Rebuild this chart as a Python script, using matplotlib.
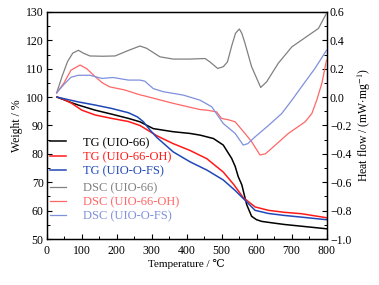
import matplotlib
matplotlib.use("Agg")
import matplotlib.pyplot as plt
from matplotlib.ticker import MultipleLocator
from matplotlib.lines import Line2D

plt.rcParams["font.family"] = ["Liberation Serif", "DejaVu Serif"]
plt.rcParams["mathtext.fontset"] = "stix"

# ----- TG curves (weight %, left axis) -----
t_tg66 = [30, 72, 91, 139, 186, 234, 267, 305, 362, 410, 439, 477, 505, 529, 539, 548,
          558, 572, 586, 600, 615, 650, 681, 729, 800]
w_tg66 = [100, 98.0, 97.2, 95.4, 94.0, 92.5, 91.3, 88.9, 87.8, 87.2, 86.6, 85.4, 83.1, 78.4,
          75.6, 71.9, 69.1, 62.1, 58.0, 56.8, 56.2, 55.6, 55.1, 54.5, 53.6]

t_tgoh = [30, 50, 72, 101, 139, 186, 234, 267, 315, 362, 410, 458, 505, 535, 562, 596,
          634, 680, 729, 800]
w_tgoh = [100, 99.2, 97.8, 95.4, 93.7, 92.5, 91.4, 90.0, 86.4, 83.6, 81.2, 78.3, 73.6, 69.2,
          64.6, 61.3, 60.1, 59.4, 58.9, 57.5]

t_tgfs = [30, 91, 139, 186, 234, 260, 277, 295, 315, 362, 410, 458, 505, 539, 562, 596,
          634, 680, 729, 800]
w_tgfs = [100, 98.3, 97.2, 96.0, 94.5, 93.0, 91.3, 88.5, 85.8, 80.7, 77.2, 74.3, 70.8, 67.1,
          64.3, 60.1, 59.0, 58.3, 57.7, 56.8]

# ----- DSC curves (heat flow mW/mg, right axis) -----
t_dsc66 = [29, 45, 60, 75, 91, 105, 124, 160, 196, 235, 267, 286, 324, 362, 410, 453, 467,
           489, 505, 517, 529, 540, 551, 558, 567, 586, 612, 629, 662, 701, 743, 777, 800]
h_dsc66 = [0.03, 0.15, 0.25, 0.31, 0.33, 0.31, 0.29, 0.288, 0.29, 0.33, 0.36, 0.344, 0.284,
           0.268, 0.268, 0.272, 0.248, 0.202, 0.214, 0.248, 0.36, 0.45, 0.48, 0.45, 0.38,
           0.214, 0.068, 0.108, 0.238, 0.354, 0.426, 0.484, 0.59]

t_dscoh = [29, 50, 70, 96, 115, 139, 160, 181, 224, 267, 281, 362, 439, 458, 486, 500, 520,
           539, 567, 586, 610, 625, 643, 691, 739, 758, 772, 787, 800]
h_dscoh = [0.03, 0.10, 0.19, 0.226, 0.20, 0.144, 0.10, 0.072, 0.05, 0.016, 0.008, -0.044,
           -0.088, -0.092, -0.104, -0.15, -0.16, -0.174, -0.256, -0.314, -0.408, -0.40,
           -0.362, -0.256, -0.174, -0.116, -0.022, 0.10, 0.26]

t_dscfs = [29, 50, 70, 91, 124, 158, 191, 234, 267, 281, 305, 334, 391, 439, 472, 505, 539,
           562, 575, 596, 635, 672, 701, 729, 767, 800]
h_dscfs = [0.03, 0.09, 0.14, 0.154, 0.154, 0.132, 0.138, 0.12, 0.12, 0.112, 0.06, 0.038,
           0.014, -0.022, -0.068, -0.186, -0.256, -0.338, -0.328, -0.28, -0.198, -0.116,
           -0.022, 0.074, 0.202, 0.33]

tg_labels = ["TG (UIO-66)", "TG (UIO-66-OH)", "TG (UIO-O-FS)"]
dsc_labels = ["DSC (UIO-66)", "DSC (UIO-66-OH)", "DSC (UIO-O-FS)"]
tg_colors = ["#000000", "#ff1a1a", "#2048b8"]
dsc_colors = ["#808080", "#ff6666", "#7f90dc"]

fig = plt.figure(figsize=(3.79, 2.85), dpi=100)
ax = fig.add_axes([0.1227, 0.1614, 0.7388, 0.7966])
ax2 = ax.twinx()

for t, h, c in zip([t_dsc66, t_dscoh, t_dscfs], [h_dsc66, h_dscoh, h_dscfs], dsc_colors):
    ax2.plot(t, h, color=c, lw=0.9)
for t, w, c in zip([t_tg66, t_tgoh, t_tgfs], [w_tg66, w_tgoh, w_tgfs], tg_colors):
    ax.plot(t, w, color=c, lw=1.1)

ax.set_xlim(0, 800)
ax.set_ylim(50, 130)
ax2.set_ylim(-1.0, 0.6)

ax.xaxis.set_major_locator(MultipleLocator(100))
ax.xaxis.set_minor_locator(MultipleLocator(50))
ax.yaxis.set_major_locator(MultipleLocator(10))
ax.yaxis.set_minor_locator(MultipleLocator(5))
ax2.yaxis.set_major_locator(MultipleLocator(0.2))
ax2.yaxis.set_minor_locator(MultipleLocator(0.1))
ax2.set_yticks(ax2.get_yticks())
ax2.set_yticklabels([f"{v:.1f}".replace("-", "\u2212") for v in ax2.get_yticks()])
ax2.set_ylim(-1.0, 0.6)

for a in (ax, ax2):
    a.tick_params(which="both", direction="in", labelsize=8.5, pad=2)
    a.tick_params(which="major", length=3.5, width=0.8)
    a.tick_params(which="minor", length=2, width=0.7)
    for s in a.spines.values():
        s.set_linewidth(0.9)
ax.tick_params(axis="x", pad=4)
ax2.tick_params(axis="y", pad=2.5)
ax.tick_params(top=False, which="both")

ax.set_xlabel("Temperature / \u2103", fontsize=8, labelpad=2)
ax.set_ylabel("Weight / %", fontsize=8.5, labelpad=2)
ax2.set_ylabel(r"Heat flow / (mW$\cdot$mg$^{-1}$)", fontsize=8.5, labelpad=3)

h1 = [Line2D([], [], color=c, lw=1.1) for c in tg_colors]
h2 = [Line2D([], [], color=c, lw=0.9) for c in dsc_colors]
leg_kw = dict(loc="upper left", frameon=False, fontsize=9, handlelength=1.3,
              handletextpad=1.35, labelspacing=0.18, borderpad=0, borderaxespad=0)
leg1 = ax.legend(h1, tg_labels, bbox_to_anchor=(0.012, 0.45), **leg_kw)
for txt, c in zip(leg1.get_texts(), tg_colors):
    txt.set_color(c)
ax.add_artist(leg1)
leg2 = ax.legend(h2, dsc_labels, bbox_to_anchor=(0.012, 0.25), **leg_kw)
for txt, c in zip(leg2.get_texts(), dsc_colors):
    txt.set_color(c)

fig.savefig("out.png", dpi=100)
